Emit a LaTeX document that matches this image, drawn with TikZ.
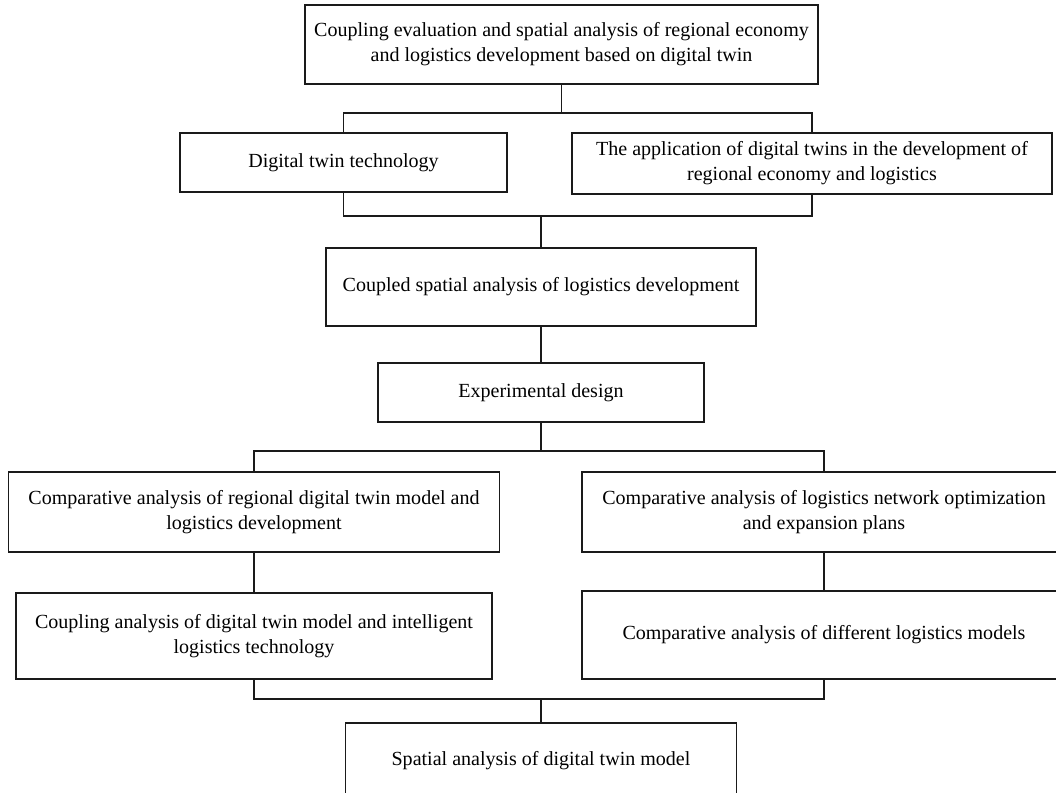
\documentclass[tikz,border=0pt]{standalone}
\usepackage{fontspec}
\setmainfont{Liberation Serif}
\usetikzlibrary{positioning,calc}
\definecolor{fcInk}{HTML}{1A1A1A}
\tikzset{
  blk/.style   ={draw=fcInk,line width=0.6pt,fill=white,align=center,
                 inner sep=2pt,font=\fontsize{11.4}{14.2}\selectfont},
  link/.style  ={fcInk,line width=0.6pt},
}

\begin{document}
\begin{tikzpicture}
\path[use as bounding box] (0,0) rectangle (21.12,-15.86);
\clip (0,0) rectangle (21.12,-15.86);
% ── upper part ─────────────────────────────────────────────────────────────
\node[blk,minimum width=10.26cm,minimum height=1.58cm] (root) at (11.23,-0.89)
  {Coupling evaluation and spatial analysis of regional economy\\and logistics development based on digital twin};
\node[blk,minimum width=6.54cm,minimum height=1.18cm] (tech) at (6.87,-3.25)
  {Digital twin technology};
\node[blk,minimum width=9.60cm,minimum height=1.22cm] (appl) at (16.24,-3.27)
  {The application of digital twins in the development of\\regional economy and logistics};
\node[blk,minimum width=8.60cm,minimum height=1.56cm] (cspa) at (10.82,-5.74)
  {Coupled spatial analysis of logistics development};
\node[blk,minimum width=6.52cm,minimum height=1.18cm] (expd) at (10.82,-7.85)
  {Experimental design};

% ── lower part ─────────────────────────────────────────────────────────────
\node[blk,minimum width=9.82cm,minimum height=1.60cm] (cmpL) at (5.08,-10.24)
  {Comparative analysis of regional digital twin model and\\logistics development};
\node[blk,minimum width=9.68cm,minimum height=1.60cm] (cmpR) at (16.48,-10.24)
  {Comparative analysis of logistics network optimization\\and expansion plans};
\node[blk,minimum width=9.52cm,minimum height=1.72cm] (cplL) at (5.08,-12.72)
  {Coupling analysis of digital twin model and intelligent\\logistics technology};
\node[blk,minimum width=9.68cm,minimum height=1.76cm] (cmpM) at (16.48,-12.70)
  {Comparative analysis of different logistics models};
\node[blk,minimum width=7.82cm,minimum height=1.52cm] (spat) at (10.82,-15.22)
  {Spatial analysis of digital twin model};

% ── connectors ─────────────────────────────────────────────────────────────
\coordinate (j1) at (0,-2.26);
\coordinate (j2) at (10.82,-4.32);
\coordinate (j3) at (10.82,-9.02);
\coordinate (j4) at (10.82,-13.98);
\draw[link] (root.south) -- (root.south |- j1);
\draw[link] (tech.north) -- (tech.north |- j1) -- (appl.north |- j1) -- (appl.north);
\draw[link] (tech.south) -- (tech.south |- j2) -- (appl.south |- j2) -- (appl.south);
\draw[link] (j2) -- (cspa.north);
\draw[link] (cspa.south) -- (expd.north);
\draw[link] (expd.south) -- (j3);
\draw[link] (cmpL.north) -- (cmpL.north |- j3) -- (cmpR.north |- j3) -- (cmpR.north);
\draw[link] (cmpL.south) -- (cplL.north);
\draw[link] (cmpR.south) -- (cmpM.north);
\draw[link] (cplL.south) -- (cplL.south |- j4) -- (cmpM.south |- j4) -- (cmpM.south);
\draw[link] (j4) -- (spat.north);
\end{tikzpicture}
\end{document}
